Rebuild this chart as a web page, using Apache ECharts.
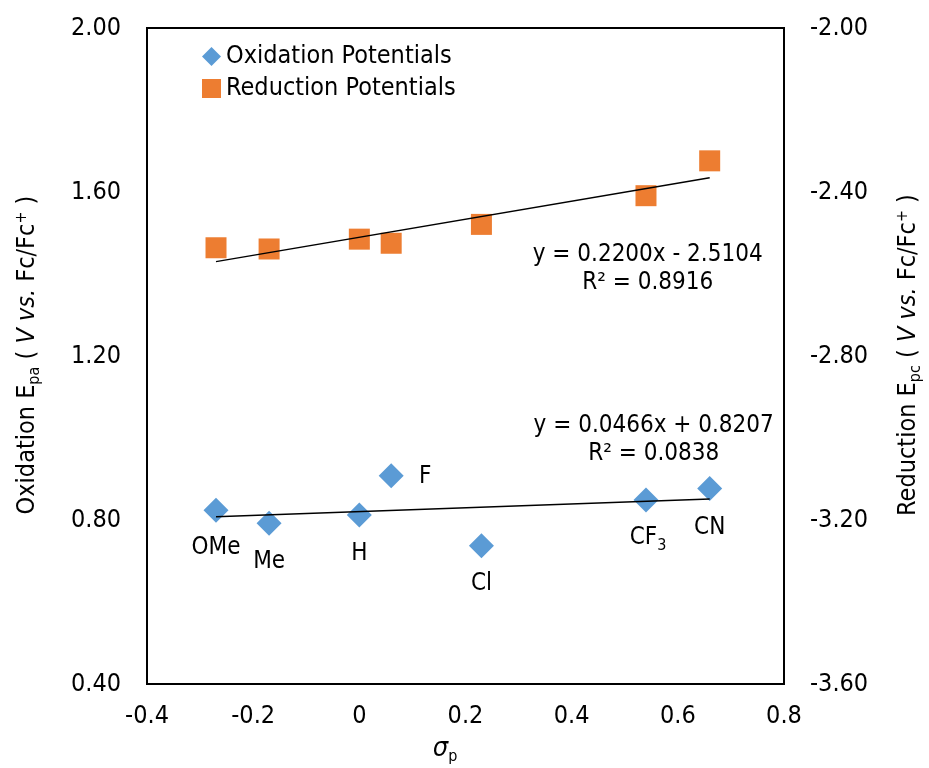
<!DOCTYPE html>
<html>
<head>
<meta charset="utf-8">
<script src="https://cdn.jsdelivr.net/npm/echarts@6/dist/echarts.min.js"></script>
<style>
html,body{margin:0;padding:0;background:#fff;}
#c{width:929px;height:768px;}
</style>
</head>
<body>
<div id="c"></div>
<script>
// ---- data ----
var substituents = ['OMe', 'Me', 'H', 'F', 'Cl', 'CF3', 'CN'];
var sigmaP = [-0.27, -0.17, 0, 0.06, 0.23, 0.54, 0.66];
var oxidation = [0.824, 0.792, 0.812, 0.908, 0.737, 0.849, 0.877];
var reduction = [-2.536, -2.539, -2.515, -2.525, -2.479, -2.409, -2.324];
var oxFit = [0.0466, 0.8207];      // slope, intercept
var redFit = [0.2200, -2.5104];
var oxFitText = ['y = 0.0466x + 0.8207', 'R² = 0.0838'];
var redFitText = ['y = 0.2200x - 2.5104', 'R² = 0.8916'];
var xTicks = [-0.4, 0.8, 0.2];
var yLeftTicks = [0.4, 2.0, 0.4];
var yRightTicks = [-3.6, -2.0, 0.4];

var FONT = '"DejaVu Sans Condensed", "DejaVu Sans", sans-serif';
var FS = 25;
var LFS = 24;
var BLUE = '#5B9BD5', ORANGE = '#ED7D31';

// label offsets for substituent labels (styling)
var labelOffsets = {
  'OMe': [0, 38], 'Me': [0, 38], 'H': [0, 39], 'F': [34, 1],
  'Cl': [0, 38], 'CF3': [2, 38], 'CN': [0, 39]
};
function labelText(s) {
  if (s === 'CF3') return 'CF{sub|3}';
  return s;
}

var xmin = Math.min.apply(null, sigmaP), xmax = Math.max.apply(null, sigmaP);

var oxData = sigmaP.map(function (x, i) {
  var s = substituents[i];
  return {
    value: [x, oxidation[i]],
    label: {
      show: true, position: 'inside', offset: labelOffsets[s],
      formatter: labelText(s), color: '#000', fontSize: LFS, fontFamily: FONT,
      rich: { sub: { fontSize: 16, fontFamily: FONT, color: '#000', padding: [15, 0, 0, 0] } }
    }
  };
});
var redData = sigmaP.map(function (x, i) { return [x, reduction[i]]; });

function fitLine(fit, text, off) {
  return [
    { value: [xmin, fit[0] * xmin + fit[1]] },
    {
      value: [xmax, fit[0] * xmax + fit[1]],
      label: {
        show: true, position: 'inside', offset: off,
        formatter: text.join('\n'), color: '#000', fontSize: LFS, fontFamily: FONT,
        lineHeight: 28, align: 'center', verticalAlign: 'middle'
      }
    }
  ];
}

var chart = echarts.init(document.getElementById('c'), null, { renderer: 'canvas' });

function titleStyle(txt) {
  return {
    text: txt,
    fill: '#000', font: FS + 'px ' + FONT, align: 'center', verticalAlign: 'middle',
    rich: {
      sub: { fontSize: 16, fontFamily: FONT, fill: '#000', padding: [15, 0, 0, 0] },
      sup: { fontSize: 16, fontFamily: FONT, fill: '#000', padding: [0, 0, 11, 0] },
      it: { fontSize: FS, fontFamily: FONT, fontStyle: 'italic', fill: '#000' }
    }
  };
}

var option = {
  animation: false,
  backgroundColor: '#fff',
  grid: { left: 147, right: 145, top: 28, bottom: 84, show: true, borderColor: '#000', borderWidth: 2, backgroundColor: 'transparent' },
  legend: {
    left: 197, top: 39, orient: 'vertical', itemWidth: 19, itemHeight: 19, itemGap: 7,
    textStyle: { color: '#000', fontSize: FS, fontFamily: FONT },
    data: [
      { name: 'Oxidation Potentials', icon: 'diamond' },
      { name: 'Reduction Potentials', icon: 'rect' }
    ]
  },
  xAxis: {
    type: 'value', min: xTicks[0], max: xTicks[1], interval: xTicks[2],
    axisLine: { show: false }, axisTick: { show: false }, splitLine: { show: false },
    axisLabel: { margin: 20, color: '#000', fontSize: FS, fontFamily: FONT,
      formatter: function (v) { return String(Math.round(v * 10) / 10); } }
  },
  yAxis: [
    {
      type: 'value', position: 'left', min: yLeftTicks[0], max: yLeftTicks[1], interval: yLeftTicks[2],
      axisLine: { show: false }, axisTick: { show: false }, splitLine: { show: false },
      axisLabel: { margin: 26, color: '#000', fontSize: FS, fontFamily: FONT,
        formatter: function (v) { return v.toFixed(2); } }
    },
    {
      type: 'value', position: 'right', min: yRightTicks[0], max: yRightTicks[1], interval: yRightTicks[2],
      axisLine: { show: false }, axisTick: { show: false }, splitLine: { show: false },
      axisLabel: { margin: 26, color: '#000', fontSize: FS, fontFamily: FONT,
        formatter: function (v) { return v.toFixed(2); } }
    }
  ],
  series: [
    {
      name: 'Oxidation Potentials', type: 'scatter', yAxisIndex: 0, symbol: 'diamond', symbolSize: [25, 25],
      itemStyle: { color: BLUE, opacity: 1 }, data: oxData, z: 3
    },
    {
      name: 'Reduction Potentials', type: 'scatter', yAxisIndex: 1, symbol: 'rect', symbolSize: [21, 21],
      itemStyle: { color: ORANGE, opacity: 1 }, data: redData, z: 3
    },
    {
      name: 'oxfit', type: 'line', yAxisIndex: 0, symbol: 'circle', symbolSize: 1,
      itemStyle: { color: 'rgba(0,0,0,0)' }, lineStyle: { color: '#000', width: 1.5 },
      data: fitLine(oxFit, oxFitText, [-56, -59]), z: 4
    },
    {
      name: 'redfit', type: 'line', yAxisIndex: 1, symbol: 'circle', symbolSize: 1,
      itemStyle: { color: 'rgba(0,0,0,0)' }, lineStyle: { color: '#000', width: 1.5 },
      data: fitLine(redFit, redFitText, [-62, 91]), z: 4
    }
  ],
  graphic: [
    {
      type: 'text', x: 27, y: 355, rotation: Math.PI / 2,
      style: titleStyle('Oxidation E{sub|pa} ( {it|V vs.} Fc/Fc{sup|+} )')
    },
    {
      type: 'text', x: 908, y: 355, rotation: Math.PI / 2,
      style: titleStyle('Reduction E{sub|pc} ( {it|V vs.} Fc/Fc{sup|+} )')
    },
    {
      type: 'text', x: 445, y: 749,
      style: {
        text: '{s|σ}{sub|p}',
        fill: '#000', align: 'center', verticalAlign: 'middle',
        rich: {
          s: { fontSize: FS + 2, fontFamily: FONT, fontStyle: 'italic', fill: '#000' },
          sub: { fontSize: 16, fontFamily: FONT, fill: '#000', padding: [15, 0, 0, 0] }
        }
      }
    }
  ]
};
chart.setOption(option);
</script>
</body>
</html>
